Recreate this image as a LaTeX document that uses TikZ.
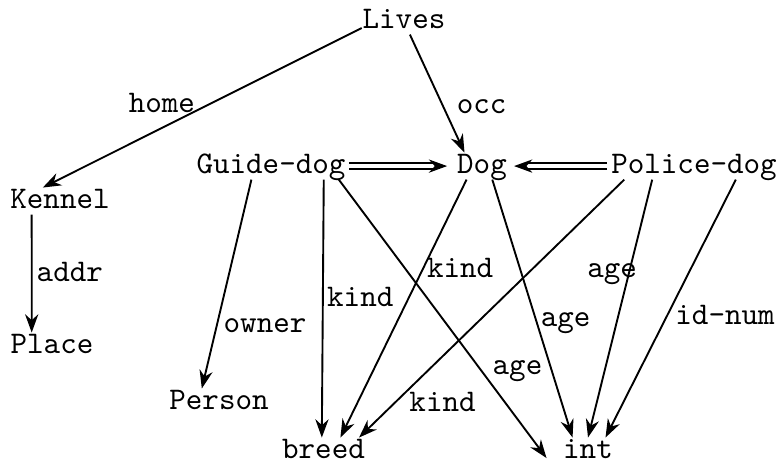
\documentclass[tikz,border=0pt]{standalone}
\usepackage{tikz}
\usetikzlibrary{calc,arrows.meta}

\begin{document}
\begin{tikzpicture}[
  x=0.3175pt, y=-0.3175pt,
  line width=0.6pt,
  obj/.style={font=\ttfamily, inner sep=0pt, text height=6.2pt, text depth=1.8pt, anchor=base},
  lbl/.style={font=\ttfamily, inner sep=0pt},
  arr/.style={-{Stealth[length=5.8pt,width=4.2pt]}},
  dbl/.style={double, double distance=1.2pt, -{Stealth[length=5.8pt,width=4.2pt]}}
]
\useasboundingbox (0,0) rectangle (779,463);

% objects
\node[obj] (lives)  at (404,28)   {Lives};
\node[obj] (kennel) at (60,208)   {Kennel};
\node[obj] (place)  at (52,353)   {Place};
\node[obj] (guide)  at (271,173)  {Guide-dog};
\node[obj] (dog)    at (482,173)  {Dog};
\node[obj] (police) at (694,173)  {Police-dog};
\node[obj] (person) at (219,409)  {Person};
\node[obj] (breed)  at (323.5,458) {breed};
\node[obj] (int)    at (588,458)  {int};

% attributes
\draw[arr] (lives.base west) -- node[lbl,pos=0.53,anchor=base east,xshift=1pt] {home}
  ($(kennel.north west)!0.33!(kennel.north east)$);
\draw[arr] ($(lives.south west)!0.57!(lives.south east)$) -- node[lbl,pos=0.67,anchor=base west,xshift=3pt] {occ}
  ($(dog.north west)!0.16!(dog.north east)$);
\draw[arr] ($(kennel.south west)!0.22!(kennel.south east)$) -- node[lbl,pos=0.57,anchor=base west,xshift=1.3pt] {addr}
  ($(place.north west)!0.26!(place.north east)$);
\draw[arr] ($(guide.south west)!0.37!(guide.south east)$) -- node[lbl,pos=0.73,anchor=base west,xshift=2.4pt] {owner}
  ($(person.north west)!0.33!(person.north east)$);
\draw[arr] ($(guide.south west)!0.85!(guide.south east)$) -- node[lbl,pos=0.49,anchor=base west,xshift=1.1pt] {kind}
  ($(breed.north west)!0.48!(breed.north east)$);
\draw[arr] ($(guide.south west)!0.95!(guide.south east)$) -- node[lbl,pos=0.7,anchor=base west,xshift=2.4pt] {age}
  ($(int.base west)+(-5pt,0)$);
\draw[arr] ($(dog.south west)!0.2!(dog.south east)$) -- node[lbl,pos=0.38,anchor=base west,xshift=2.4pt] {kind}
  ($(breed.north west)!0.7!(breed.north east)$);
\draw[arr] ($(dog.south west)!0.7!(dog.south east)$) -- node[lbl,pos=0.57,anchor=base west,xshift=0.6pt] {age}
  ($(int.north west)!0.2!(int.north east)$);
\draw[arr] ($(police.south west)!0.083!(police.south east)$) -- node[lbl,pos=0.9,anchor=base west,xshift=7.3pt] {kind}
  ($(breed.north west)!0.92!(breed.north east)$);
\draw[arr] ($(police.south west)!0.25!(police.south east)$) -- node[lbl,pos=0.38,anchor=base east,xshift=3.2pt] {age}
  ($(int.north west)!0.5!(int.north east)$);
\draw[arr] ($(police.south west)!0.75!(police.south east)$) -- node[lbl,pos=0.56,anchor=base west,xshift=3.7pt] {id-num}
  ($(int.north west)!0.84!(int.north east)$);

% subtypes
\draw[dbl, shorten <=0.8pt, shorten >=2.9pt] (guide.east) -- (dog.west);
\draw[dbl, shorten <=1pt, shorten >=2pt] (police.west) -- (dog.east);
\end{tikzpicture}
\end{document}
